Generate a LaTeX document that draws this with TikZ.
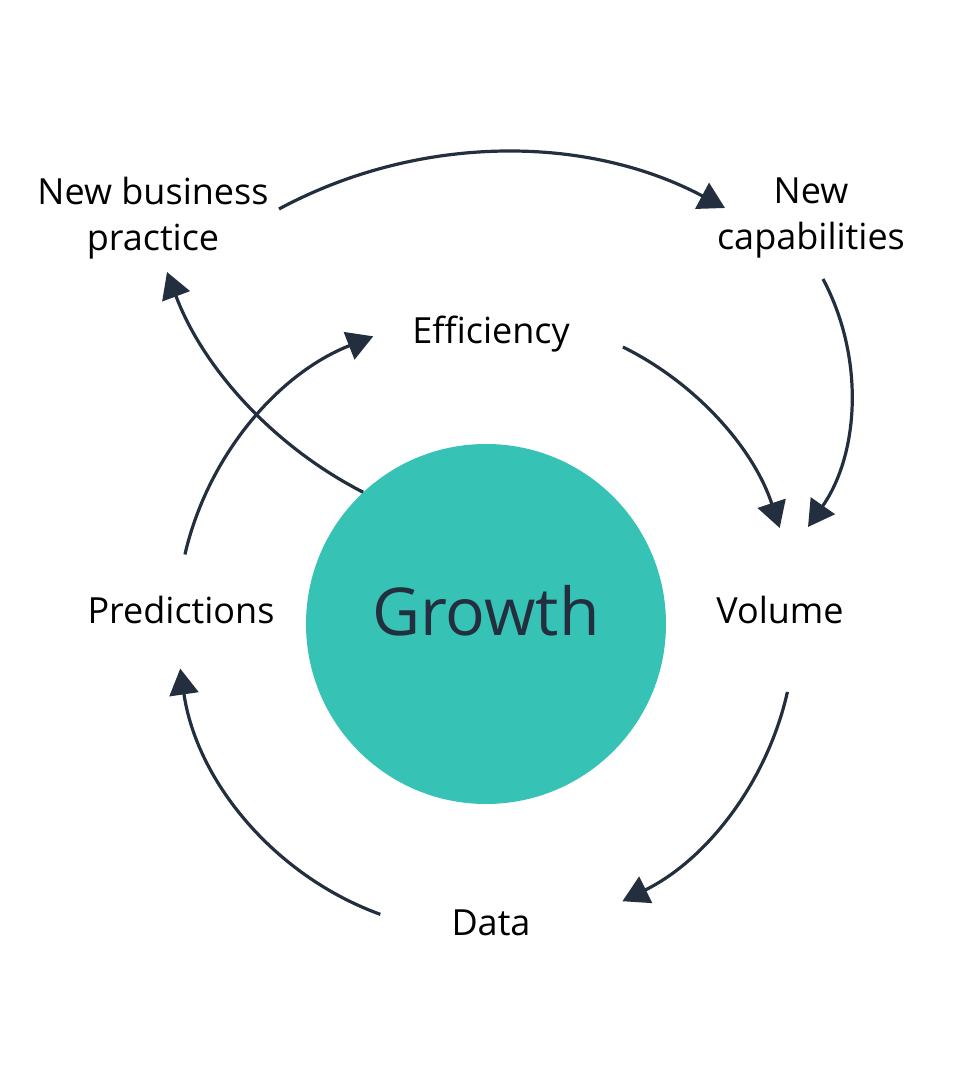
\documentclass[tikz,border=0pt]{standalone}
\usepackage{fontspec}
\setmainfont{Open Sans}
\usetikzlibrary{arrows.meta,calc}
\definecolor{ink}{HTML}{232F3E}
\definecolor{growthteal}{HTML}{36C2B4}
\begin{document}
\begin{tikzpicture}[x=1pt,y=1pt,
  conn/.style={draw=ink, line width=3.2pt, -{Triangle[length=26pt,width=29pt]}},
  lbl/.style={font=\fontsize{36}{46}\selectfont, text=black, align=center, inner sep=0pt}]
\useasboundingbox (0,0) rectangle (969,1080);
\coordinate (C) at (486,456);
\node[circle, fill=growthteal, minimum size=360pt, inner sep=0pt] (growth) at (C) {};
\node[font=\fontsize{66}{80}\selectfont, text=ink, inner sep=0pt, anchor=base] (growthlabel) at (486,444) {Growth};
% labels
\node[lbl] (nbp) at (153,862) {New business\\practice};
\node[lbl] (ncap) at (811,862) {New\\capabilities};
\node[lbl, anchor=base] (eff) at (491,736) {Efficiency};
\node[lbl, anchor=base] (vol) at (780,456) {Volume};
\node[lbl, anchor=base] (data) at (491,144) {Data};
\node[lbl, anchor=base] (pred) at (181,456) {Predictions};
% inner cycle endpoints
\coordinate (effout) at ($(C)+(63.7:309)$);
\coordinate (volin)  at ($(C)+(18.1:309)$);
\coordinate (volout) at ($(C)+(-12.7:309)$);
\coordinate (datain) at ($(C)+(-63.8:309)$);
\coordinate (dataout) at ($(C)+(-110:309)$);
\coordinate (predin) at ($(C)+(188.3:309)$);
\coordinate (predout) at ($(C)+(167:309)$);
\coordinate (effin) at ($(C)+(111.4:309)$);
% outer endpoints
\coordinate (nbpout) at (279,871);
\coordinate (ncapin) at (725,872);
\coordinate (ncapout) at (823,801);
\coordinate (volin2) at (808,553);
\coordinate (nbpin) at (167,808);
% inner cycle arrows
\draw[conn] (effout) to[bend left=22.8, looseness=0.886] (volin);
\draw[conn] (volout) to[bend left=25.55, looseness=0.895] (datain);
\draw[conn] (dataout) to[bend left=30.85, looseness=0.916] (predin);
\draw[conn] (predout) to[bend left=27.8, looseness=0.904] (effin);
% outer arrows
\draw[conn] (nbpout) to[bend left=28.15, looseness=0.905] (ncapin);
\draw[conn] (ncapout) to[bend left=31.5, looseness=0.92] (volin2);
\draw[conn] (growth.133.4) to[bend left=21.2, looseness=0.88] (nbpin);
\end{tikzpicture}
\end{document}
